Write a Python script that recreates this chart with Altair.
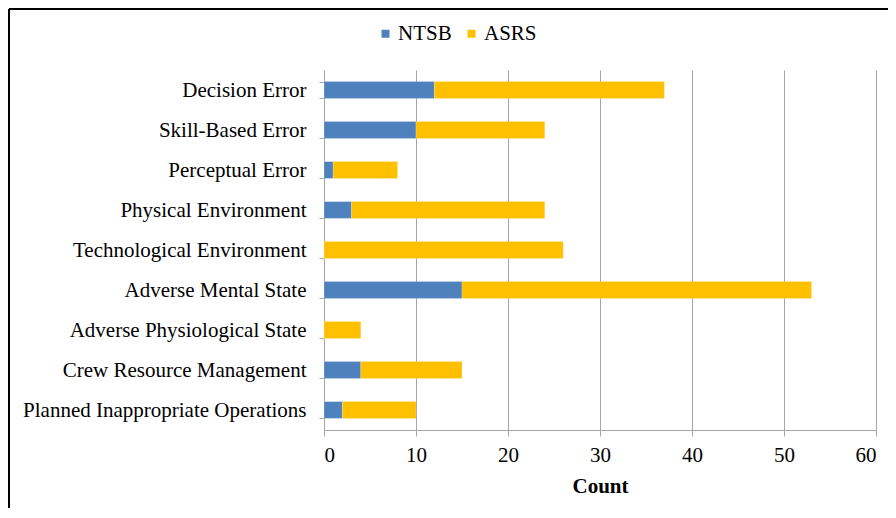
import altair as alt
import pandas as pd

categories = [
    "Decision Error",
    "Skill-Based Error",
    "Perceptual Error",
    "Physical Environment",
    "Technological Environment",
    "Adverse Mental State",
    "Adverse Physiological State",
    "Crew Resource Management",
    "Planned Inappropriate Operations",
]
ntsb = [12, 10, 1, 3, 0, 15, 0, 4, 2]
asrs = [25, 14, 7, 21, 26, 38, 4, 11, 8]
series = ["NTSB", "ASRS"]
colors = ["#4F81BD", "#FFC000"]
x_ticks = [0, 10, 20, 30, 40, 50, 60]

rows = []
for c, n, a in zip(categories, ntsb, asrs):
    rows.append({"Category": c, "Source": "NTSB", "Count": n, "ord": 0})
    rows.append({"Category": c, "Source": "ASRS", "Count": a, "ord": 1})
df = pd.DataFrame(rows)

FONT = "Liberation Serif"
FS = 21

bars = alt.Chart(df).mark_bar(stroke="#FFFFFF", strokeOpacity=0.4, strokeWidth=0.5).encode(
    y=alt.Y(
        "Category:N",
        sort=categories,
        scale=alt.Scale(paddingInner=0.58, paddingOuter=0.29),
        axis=alt.Axis(
            title=None,
            labelFont=FONT,
            labelFontSize=FS,
            labelColor="#000000",
            labelPadding=13,
            labelLimit=500,
            tickBand="extent",
            ticks=True,
            tickSize=5,
            tickColor="#A6A6A6",
            domainColor="#A6A6A6",
            grid=False,
        ),
    ),
    x=alt.X(
        "Count:Q",
        stack="zero",
        scale=alt.Scale(domain=[0, 60], nice=False),
        axis=alt.Axis(
            values=x_ticks,
            title="Count",
            titleFont=FONT,
            titleFontSize=21,
            titleFontWeight="bold",
            titleColor="#000000",
            titlePadding=10,
            labelFont=FONT,
            labelFontSize=FS,
            labelColor="#000000",
            labelPadding=8,
            grid=True,
            gridColor="#A6A6A6",
            tickColor="#A6A6A6",
            domainColor="#A6A6A6",
            tickSize=6,
        ),
    ),
    color=alt.Color(
        "Source:N",
        sort=series,
        scale=alt.Scale(domain=series, range=colors),
        legend=alt.Legend(
            orient="none",
            legendX=51,
            legendY=-47,
            direction="horizontal",
            title=None,
            symbolType="square",
            symbolSize=64,
            symbolStrokeWidth=0,
            labelFont=FONT,
            labelFontSize=FS,
            labelColor="#000000",
            columnPadding=9,
            labelOffset=2,
        ),
    ),
    order=alt.Order("ord:Q"),
)

frame_df = pd.DataFrame({"k": [0]})
top_line = alt.Chart(frame_df).mark_rule(color="#000000", strokeWidth=2).encode(
    x=alt.value(-315), x2=alt.value(572), y=alt.value(-61)
)
left_line = alt.Chart(frame_df).mark_rule(color="#000000", strokeWidth=2).encode(
    x=alt.value(-315), y=alt.value(-61), y2=alt.value(450)
)

chart = alt.layer(bars, top_line, left_line).properties(
    width=552,
    height=360,
    autosize="none",
    padding={"left": 316, "top": 62, "right": 12, "bottom": 78},
).configure_view(stroke=None)

chart.save("out.html", embed_options={"renderer": "svg", "actions": False})
